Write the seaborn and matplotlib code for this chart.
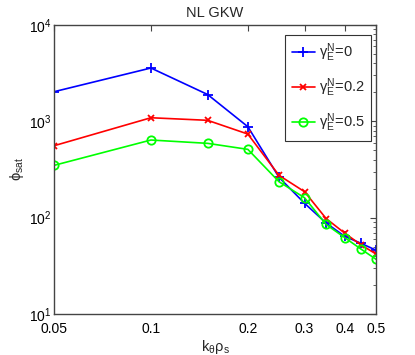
import numpy as np
import pandas as pd
import matplotlib
matplotlib.use("Agg")
import matplotlib.pyplot as plt
from matplotlib.ticker import LogLocator, NullLocator, FixedLocator, NullFormatter
import seaborn as sns

# data
k_theta = [0.05, 0.1, 0.15, 0.2, 0.25, 0.3, 0.35, 0.4, 0.45, 0.5]
phi_g0 = [2030, 3580, 1900, 880, 262, 141, 88, 64, 54, 46]
phi_g02 = [558, 1090, 1025, 738, 275, 186, 98, 69, 52, 42]
phi_g05 = [349, 640, 591, 512, 236, 161, 85, 62, 47, 37]
labels = [r'$\gamma_E^N$=0', r'$\gamma_E^N$=0.2', r'$\gamma_E^N$=0.5']
colors = ['#0000ff', '#ff0000', '#00ff00']
markers = ['+', 'x', 'o']
msizes = [7, 5, 6]
xticks = [0.05, 0.1, 0.2, 0.3, 0.4, 0.5]
xticklabels = ['0.05', '0.1', '0.2', '0.3', '0.4', '0.5']

sns.set_style("white")
plt.rcParams['font.family'] = ['Liberation Sans', 'DejaVu Sans']
plt.rcParams['mathtext.fontset'] = 'custom'
plt.rcParams['mathtext.rm'] = 'Liberation Sans'
plt.rcParams['mathtext.it'] = 'Liberation Sans'
plt.rcParams['mathtext.bf'] = 'Liberation Sans:bold'

fig = plt.figure(figsize=(4.15, 3.55), dpi=100)
ax = fig.add_axes([0.130, 0.1155, 0.776, 0.814])

for vals, lab, c, m, ms in zip([phi_g0, phi_g02, phi_g05], labels, colors, markers, msizes):
    df = pd.DataFrame({'k': k_theta, 'phi': vals})
    sns.lineplot(data=df, x='k', y='phi', ax=ax, color=c, marker=m,
                 markersize=ms, markeredgewidth=1.3, markerfacecolor='none',
                 markeredgecolor=c, linewidth=1.2, label=lab)

ax.set_xscale('log')
ax.set_yscale('log')
ax.set_xlim(0.05, 0.5)
ax.set_ylim(10, 1e4)

ax.xaxis.set_major_locator(FixedLocator(xticks))
ax.set_xticklabels(xticklabels)
ax.xaxis.set_minor_locator(NullLocator())
ax.yaxis.set_major_locator(LogLocator(base=10))
ax.yaxis.set_minor_locator(LogLocator(base=10, subs=np.arange(2, 10)))
ax.yaxis.set_minor_formatter(NullFormatter())

axis_col = '#444444'
for s in ax.spines.values():
    s.set_color(axis_col)
    s.set_linewidth(1.0)
ax.tick_params(which='both', direction='in', top=True, right=True,
               color=axis_col, labelsize=10, labelcolor='black')
ax.tick_params(axis='y', pad=2)
ax.tick_params(axis='x', pad=6)
ax.tick_params(which='major', length=4)
ax.tick_params(which='minor', length=2)

ax.set_title('NL GKW', fontsize=10.5, pad=6)
ax.set_xlabel(r'$\mathrm{k_\theta\rho_s}$', fontsize=10.5, labelpad=1)
ax.set_ylabel(r'$\mathrm{\phi_{sat}}$', fontsize=10.5, labelpad=2)

leg = ax.legend(loc='upper right', bbox_to_anchor=(0.985, 0.965), fontsize=10.5,
                fancybox=False, framealpha=1, edgecolor='#333333',
                handlelength=1.6, handletextpad=0.25, labelspacing=0.85,
                borderaxespad=0, borderpad=0.45)
leg.get_frame().set_linewidth(0.8)

fig.savefig('out.png', dpi=100)
